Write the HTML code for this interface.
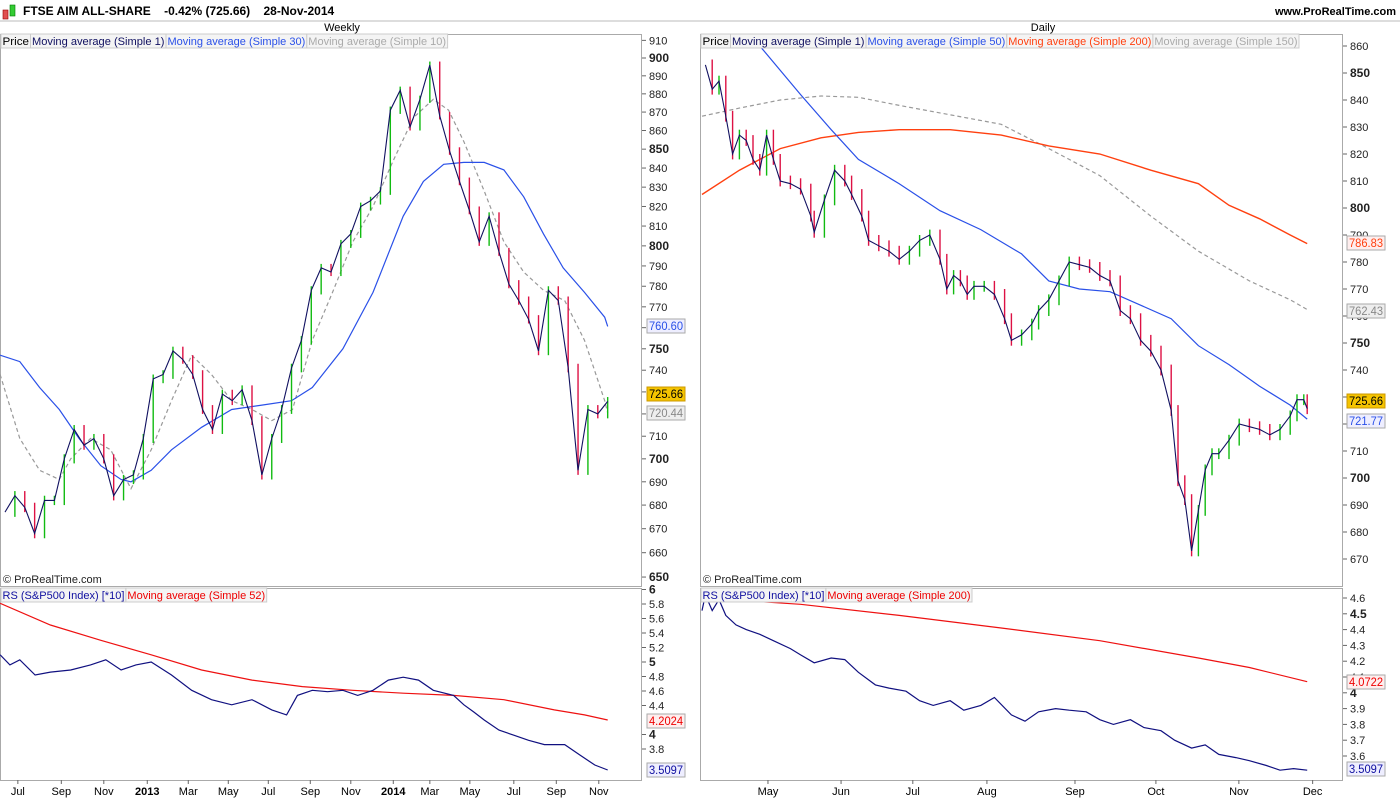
<!DOCTYPE html>
<html><head><meta charset="utf-8"><style>
body{margin:0;background:#fff;font-family:"Liberation Sans",sans-serif;}
svg text{font-family:"Liberation Sans",sans-serif;}
</style></head><body>
<svg id="c" width="1400" height="800" xmlns="http://www.w3.org/2000/svg">
<rect x="0" y="0" width="1400" height="800" fill="#fff"/>
<g>
<rect x="3" y="10" width="5" height="9" fill="#e05050" stroke="#900" stroke-width="0.6"/>
<rect x="10" y="5" width="5" height="11" fill="#3c3" stroke="#070" stroke-width="0.6"/>
<text x="23" y="15" font-size="12" font-weight="bold">FTSE AIM ALL-SHARE &#160;&#160; -0.42% (725.66) &#160;&#160; 28-Nov-2014</text>
<text x="1396" y="15" font-size="11" font-weight="bold" text-anchor="end">www.ProRealTime.com</text>
<line x1="0" y1="21" x2="1400" y2="21" stroke="#bbb"/>
</g>
<text x="342" y="31" font-size="11" text-anchor="middle">Weekly</text>
<text x="1043" y="31" font-size="11" text-anchor="middle">Daily</text>
<g id="g"></g>
</svg>
<script>
// ---- weekly data (week index from mid-Jun 2012) ----
const wCloses=[677,684,679,668,682,682,700,713,706,709,700,684,691,693,709,736,738,749,745,738,722,713,729,726,731,717,693,709,722,741,754,778,789,787,801,806,820,823,828,871,882,862,877,896,868,849,833,818,802,815,797,781,773,764,749,778,773,741,695,722,720,725.66];
const ma30Weeks=[-1,3,7,11,15,19.4,23.5,25.5,29.6,33.7,39.8,45.9,52,58,62.2,68.4,74.5,80.6,84.7,88.8,92.9,97,101,105,109,113,117.3,121.4,122];
const ma30Vals=[747,744,732,722,709,697,691,690,695,704,714,722,724,726,732,750,777,815,833,842,843,843,839,825,806,789,777,765,760.6];
const ma10Weeks=[-1,3,7,11,13.3,17.3,21.4,25.5,29.6,33.7,37.8,41.8,45.9,50,54,58.2,62.2,66.3,70.4,74.5,78.6,82.7,86.7,89.8,92.9,97,101,105,109,113.3,117.3,121.4,122];
const ma10Vals=[738,709,695,691,700,709,704,687,704,726,747,738,726,722,717,722,754,777,802,820,844,867,877,871,854,828,802,787,778,773,754,726,720.4];
const rsWWeeks=[-1,1,3,6.1,9.2,13.3,17.3,20.4,23.5,26.5,29.6,33.7,37.8,41.8,45.9,50,54,57,59.2,62.2,65.3,68.4,71.4,74.5,77.6,80.6,83.7,86.7,90.8,92.9,94.9,97,100,103,106,109.2,113.3,116.3,119.4,122];
const rsWVals=[5.10,4.96,5.03,4.82,4.86,4.89,4.96,5.03,4.89,4.96,5.00,4.82,4.61,4.48,4.41,4.48,4.34,4.27,4.54,4.61,4.59,4.61,4.54,4.61,4.75,4.79,4.75,4.61,4.54,4.41,4.31,4.20,4.06,3.99,3.92,3.86,3.86,3.72,3.58,3.51];
const rs52Weeks=[-1,9.2,19.4,29.6,39.8,50,60.2,70.4,80.6,90.8,101,111.2,117.3,122];
const rs52Vals=[5.81,5.51,5.30,5.10,4.89,4.75,4.66,4.61,4.57,4.54,4.48,4.34,4.27,4.20];
const wMonthLabels=["Jul","Sep","Nov","2013","Mar","May","Jul","Sep","Nov","2014","Mar","May","Jul","Sep","Nov"];
const wMonthWeeks=[2.6,11.4,20,28.8,37.1,45.2,53.3,61.8,70,78.6,86,94.1,103,111.6,120.2];
const wPriceTicks=[910,900,890,880,870,860,850,840,830,820,810,800,790,780,770,760,750,740,730,720,710,700,690,680,670,660,650];
const wRsTicks=[6,5.8,5.6,5.4,5.2,5,4.8,4.6,4.4,4,3.8];
// ---- daily data (trading day index from early Apr 2014) ----
const dDays=[1,3,5,7,9,11,13,15,17,19,21,23,26,29,32,33,36,39,42,44,47,49,52,55,58,61,64,67,70,72,74,76,78,80,83,86,89,91,94,97,99,102,105,108,111,114,117,120,123,126,129,132,135,138,140,142,144,146,148,150,152,155,158,161,164,167,170,173,175,177,178];
const dCloses=[853,844,847,834,820,827,825,818,814,827,818,810,809,807,797,791,803,814,810,805,797,788,786,784,781,784,788,790,781,770,775,773,768,771,771,768,759,751,753,757,762,766,773,780,779,778,775,773,762,759,751,747,740,725,699,692,673,688,703,709,709,714,720,719,718,716,718,723,729,729,725.66];
const ma50Days=[0,17,29,38,46,58,70,82,94,102,111,120,129,138,146,155,164,173,178];
const ma50Vals=[866,860,842,829,818,809,799,792,783,773,770,769,764,759,749,742,734,727,721.8];
const ma200Days=[0,11,23,35,46,58,73,88,102,117,132,146,155,164,173,178];
const ma200Vals=[805,814,822,826,828,829,829,827,823,820,814,809,801,796,790,786.8];
const ma150Days=[0,11,23,35,46,58,73,88,102,117,132,146,161,173,178];
const ma150Vals=[834,837,840,841.5,841,838,834.5,831,822,812,797,784,773,766,762.4];
const rsDDays=[0,1,3,5,7,10,13,17,21,26,29,33,38,42,46,51,55,60,64,68,73,77,82,86,91,95,99,104,108,113,117,121,126,130,135,139,144,148,152,157,161,166,170,174,178];
const rsDVals=[4.52,4.62,4.52,4.59,4.49,4.43,4.40,4.37,4.33,4.28,4.24,4.19,4.22,4.21,4.13,4.05,4.03,4.01,3.95,3.92,3.95,3.89,3.92,3.97,3.86,3.82,3.88,3.90,3.89,3.88,3.83,3.80,3.83,3.78,3.76,3.70,3.65,3.67,3.61,3.59,3.57,3.54,3.51,3.52,3.51];
const rs200Days=[0,29,58,88,117,146,161,178];
const rs200Vals=[4.60,4.56,4.49,4.41,4.33,4.22,4.16,4.07];
const dMonthLabels=["May","Jun","Jul","Aug","Sep","Oct","Nov","Dec"];
const dMonthDays=[19.4,40.9,62,83.8,109.7,133.5,157.9,179.6];
const dPriceTicks=[860,850,840,830,820,810,800,790,780,770,760,750,740,730,720,710,700,690,680,670];
const dRsTicks=[4.6,4.5,4.4,4.3,4.2,4.1,4,3.9,3.8,3.7,3.6];

// ---- axis functions ----
const xW=w=>5+w*4.94;
const yWP=p=>58+Math.log(900/p)*1595;
const yWR=v=>604+(5.8-v)*72.5;
const xD=d=>702+d*3.4;
const yDP=p=>73+(850-p)*2.7;
const yDR=v=>598+(4.6-v)*158;

const NS="http://www.w3.org/2000/svg";
const G=document.getElementById('g');
function mk(tag,at,parent){const e=document.createElementNS(NS,tag);for(const k in at)e.setAttribute(k,at[k]);(parent||G).appendChild(e);return e;}
function grp(name,clip){const g=mk('g',clip?{'clip-path':'url(#'+clip+')'}:{});


return g;}
const defs=mk('defs',{});
[['cwp',0,34,641,552],['cwr',0,588,641,192],['cdp',700,34,642,552],['cdr',700,588,642,192]].forEach(a=>{const c=mk('clipPath',{id:a[0]},defs);mk('rect',{x:a[1],y:a[2],width:a[3],height:a[4]},c);});

[[0,34,641,552,'weekly-price-panel'],[0,588,641,192,'weekly-rs-panel'],[700,34,642,552,'daily-price-panel'],[700,588,642,192,'daily-rs-panel']].forEach(p=>{
const r=mk('rect',{x:p[0]+0.5,y:p[1]+0.5,width:p[2],height:p[3],fill:'none',stroke:'#aaa'});


});

function line(xs,ys,xf,yf,color,name,clip,dash,w){
const g=grp(name,clip);
const d=xs.map((x,i)=>(i?'L':'M')+xf(x).toFixed(1)+','+yf(ys[i]).toFixed(1)).join('');
mk('path',{d:d,fill:'none',stroke:color,'stroke-width':w||1.2,'stroke-dasharray':dash||'none'},g);
}
function bars(xs,cl,xf,yf,name,clip){
const g=grp(name,clip);
cl.forEach((c,i)=>{ if(i===0)return; const p=cl[i-1];
const up=c>=p; const hi=Math.max(c,p)+2, lo=Math.min(c,p)-2;
const b=mk('line',{x1:xf(xs[i]),x2:xf(xs[i]),y1:yf(hi),y2:yf(lo),stroke:up?'#11bb11':'#dd1144','stroke-width':1.4},g);


});
const d=xs.map((x,i)=>(i?'L':'M')+xf(x).toFixed(1)+','+yf(cl[i]).toFixed(1)).join('');
mk('path',{d:d,fill:'none',stroke:'#101060','stroke-width':1.1},g);
}
function ticks(vals,yf,x,name,bolds){
const g=grp(name);
vals.forEach(v=>{const y=yf(v);
mk('line',{x1:x,x2:x+4,y1:y,y2:y,stroke:'#666'},g);
const b=bolds.includes(v);
const t=mk('text',{x:x+7,y:y+4,'font-size':b?12:11,'font-weight':b?'bold':'normal',fill:'#222'},g);
t.textContent=String(v);


});
}
function xlabels(labels,pos,xf,name){
const g=grp(name);
labels.forEach((l,i)=>{const x=xf(pos[i]);
mk('line',{x1:x,x2:x,y1:780,y2:784,stroke:'#666'},g);
const t=mk('text',{x:x,y:795,'font-size':11,'text-anchor':'middle','font-weight':/^\d+$/.test(l)?'bold':'normal'},g);
t.textContent=l;


});
}
function tag(x,y,txt,fg,bg,bd,name){
const g=grp(name);
mk('rect',{x:x,y:y-7,width:38,height:14,fill:bg,stroke:bd},g);
const t=mk('text',{x:x+2,y:y+4,'font-size':12,fill:fg,textLength:34,lengthAdjust:'spacingAndGlyphs'},g);t.textContent=txt;
}
function legend(x,y,items,name){
const g=grp(name);let cx=x;
items.forEach(it=>{const w=it[0].length*5.3+3;
mk('rect',{x:cx,y:y,width:w,height:14,fill:'#f4f4f4',stroke:'#ccc'},g);
const t=mk('text',{x:cx+1.5,y:y+11,'font-size':11,fill:it[1],textLength:w-3,lengthAdjust:'spacingAndGlyphs'},g);t.textContent=it[0];


cx+=w;});
}

line(ma10Weeks,ma10Vals,xW,yWP,'#999','weekly-ma10','cwp','4,3',1.2);
line(ma30Weeks,ma30Vals,xW,yWP,'#2a50e8','weekly-ma30','cwp');
bars(wCloses.map((c,i)=>2*i),wCloses,xW,yWP,'weekly-price-series','cwp');
ticks(wPriceTicks,yWP,642,'weekly-price-axis',[900,850,800,750,700,650]);
line(rs52Weeks,rs52Vals,xW,yWR,'#ee1111','weekly-rs-ma52','cwr');
line(rsWWeeks,rsWVals,xW,yWR,'#101080','weekly-rs','cwr');
ticks(wRsTicks,yWR,642,'weekly-rs-axis',[6,5,4]);
xlabels(wMonthLabels,wMonthWeeks,xW,'weekly-x-axis');
line(ma150Days,ma150Vals,xD,yDP,'#999','daily-ma150','cdp','4,3',1.2);
line(ma200Days,ma200Vals,xD,yDP,'#ff4010','daily-ma200','cdp',null,1.4);
line(ma50Days,ma50Vals,xD,yDP,'#2a50e8','daily-ma50','cdp');
bars(dDays,dCloses,xD,yDP,'daily-price-series','cdp');
ticks(dPriceTicks,yDP,1343,'daily-price-axis',[850,800,750,700]);
line(rs200Days,rs200Vals,xD,yDR,'#ee1111','daily-rs-ma200','cdr');
line(rsDDays,rsDVals,xD,yDR,'#101080','daily-rs','cdr');
ticks(dRsTicks,yDR,1343,'daily-rs-axis',[4.5,4]);
xlabels(dMonthLabels,dMonthDays,xD,'daily-x-axis');

tag(647,326,'760.60','#2a50e8','#eef','#aaa','tag-weekly-ma30');
tag(647,413,'720.44','#888','#eee','#aaa','tag-weekly-ma10');
tag(647,394,'725.66','#000','#f5c400','#c90','tag-weekly-price');
tag(647,721,'4.2024','#e00','#fee','#aaa','tag-weekly-rs-ma');
tag(647,770,'3.5097','#1010a0','#eef','#aaa','tag-weekly-rs');
tag(1347,243,'786.83','#ff4010','#fee','#aaa','tag-daily-ma200');
tag(1347,311,'762.43','#888','#eee','#aaa','tag-daily-ma150');
tag(1347,421,'721.77','#2a50e8','#eef','#aaa','tag-daily-ma50');
tag(1347,401,'725.66','#000','#f5c400','#c90','tag-daily-price');
tag(1347,682,'4.0722','#e00','#fee','#aaa','tag-daily-rs-ma');
tag(1347,769,'3.5097','#1010a0','#eef','#aaa','tag-daily-rs');

legend(1,34,[['Price','#000'],['Moving average (Simple 1)','#101060'],['Moving average (Simple 30)','#2a50e8'],['Moving average (Simple 10)','#aaa']],'weekly-legend');
legend(701,34,[['Price','#000'],['Moving average (Simple 1)','#101060'],['Moving average (Simple 50)','#2a50e8'],['Moving average (Simple 200)','#ff4010'],['Moving average (Simple 150)','#aaa']],'daily-legend');
legend(1,588,[['RS (S&P500 Index) [*10]','#1010a0'],['Moving average (Simple 52)','#e00']],'weekly-rs-legend');
legend(701,588,[['RS (S&P500 Index) [*10]','#1010a0'],['Moving average (Simple 200)','#e00']],'daily-rs-legend');

[[3,'copyright-weekly'],[703,'copyright-daily']].forEach(c=>{
const t=mk('text',{x:c[0],y:583,'font-size':11,fill:'#222'});t.textContent='© ProRealTime.com';


});
</script>
</body></html>
